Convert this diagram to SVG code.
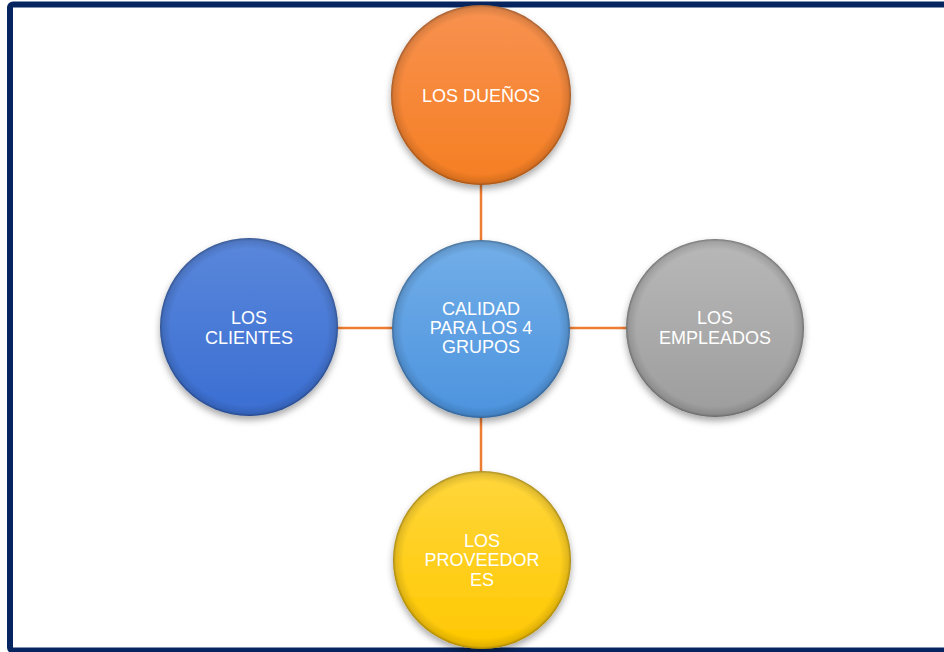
<svg xmlns="http://www.w3.org/2000/svg" width="944" height="652" viewBox="0 0 944 652">
  <defs>
    <style>
      .lbl { font-family: "Liberation Sans", Arial, sans-serif; font-size: 18px; fill: #ffffff; text-anchor: middle; }
      .link { stroke: #ED7D31; stroke-width: 2.5; fill: none; }
      .rim { fill: url(#rim); }
      .ball { filter: url(#shadow); }
    </style>
    <filter id="shadow" x="-20%" y="-20%" width="140%" height="150%">
      <feDropShadow dx="0" dy="4" stdDeviation="3.5" flood-color="#000000" flood-opacity="0.35"/>
    </filter>
    <!-- darkened bevel edge -->
    <radialGradient id="rim" cx="50%" cy="50%" r="50%">
      <stop offset="0.88" stop-color="#000000" stop-opacity="0"/>
      <stop offset="0.97" stop-color="#000000" stop-opacity="0.12"/>
      <stop offset="1" stop-color="#000000" stop-opacity="0.35"/>
    </radialGradient>
    <linearGradient id="gOrange" x1="0" y1="0" x2="0" y2="1">
      <stop offset="0" stop-color="#F89250"/>
      <stop offset="1" stop-color="#F57E22"/>
    </linearGradient>
    <linearGradient id="gSky" x1="0" y1="0" x2="0" y2="1">
      <stop offset="0" stop-color="#72AEE8"/>
      <stop offset="1" stop-color="#4C93DE"/>
    </linearGradient>
    <linearGradient id="gBlue" x1="0" y1="0" x2="0" y2="1">
      <stop offset="0" stop-color="#5A87DB"/>
      <stop offset="1" stop-color="#3A6ED2"/>
    </linearGradient>
    <linearGradient id="gGray" x1="0" y1="0" x2="0" y2="1">
      <stop offset="0" stop-color="#B8B8B8"/>
      <stop offset="1" stop-color="#9D9D9D"/>
    </linearGradient>
    <linearGradient id="gYellow" x1="0" y1="0" x2="0" y2="1">
      <stop offset="0" stop-color="#FFD63C"/>
      <stop offset="1" stop-color="#FFC800"/>
    </linearGradient>
  </defs>

  <rect x="0" y="0" width="944" height="652" fill="#ffffff"/>
  <!-- frame -->
  <rect x="10" y="4.5" width="950" height="646" rx="3" fill="none" stroke="#062560" stroke-width="6"/>

  <g id="connectors">
    <line class="link" x1="481" y1="96" x2="481" y2="560"/>
    <line class="link" x1="249" y1="328" x2="715" y2="328"/>
  </g>

  <g id="node-duenos">
    <circle class="ball" cx="481" cy="95" r="90" fill="url(#gOrange)"/>
    <circle class="rim" cx="481" cy="95" r="90"/>
    <text class="lbl" x="481" y="102">LOS DUEÑOS</text>
  </g>

  <g id="node-calidad">
    <circle class="ball" cx="481" cy="329" r="89" fill="url(#gSky)"/>
    <circle class="rim" cx="481" cy="329" r="89"/>
    <text class="lbl" x="481" y="315">CALIDAD</text>
    <text class="lbl" x="481" y="334">PARA LOS 4</text>
    <text class="lbl" x="481" y="353">GRUPOS</text>
  </g>

  <g id="node-clientes">
    <circle class="ball" cx="249" cy="327" r="89" fill="url(#gBlue)"/>
    <circle class="rim" cx="249" cy="327" r="89"/>
    <text class="lbl" x="249" y="324">LOS</text>
    <text class="lbl" x="249" y="344">CLIENTES</text>
  </g>

  <g id="node-empleados">
    <circle class="ball" cx="715" cy="328" r="89" fill="url(#gGray)"/>
    <circle class="rim" cx="715" cy="328" r="89"/>
    <text class="lbl" x="715" y="324">LOS</text>
    <text class="lbl" x="715" y="344">EMPLEADOS</text>
  </g>

  <g id="node-proveedores">
    <circle class="ball" cx="482" cy="560" r="89" fill="url(#gYellow)"/>
    <circle class="rim" cx="482" cy="560" r="89"/>
    <text class="lbl" x="482" y="547">LOS</text>
    <text class="lbl" x="482" y="566">PROVEEDOR</text>
    <text class="lbl" x="482" y="586">ES</text>
  </g>
</svg>
